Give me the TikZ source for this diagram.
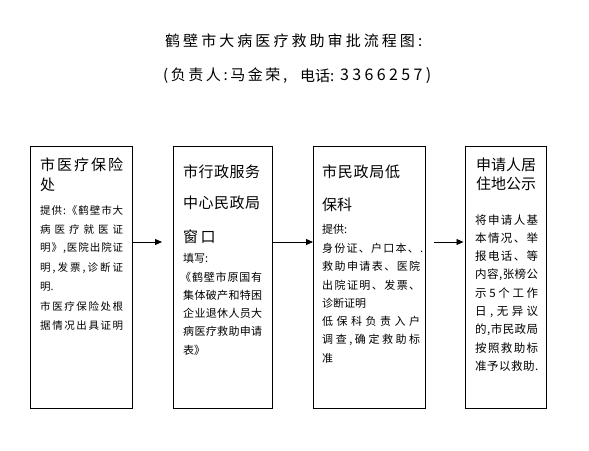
\documentclass[tikz,border=0pt]{standalone}
\usepackage{fontspec}
\newfontfamily\cjk{Noto Sans CJK SC}
\usetikzlibrary{arrows.meta}
\makeatletter
\def\spreadaux#1#2{#1\ifx\relax#2\expandafter\@gobble\else\hfil\expandafter\@firstofone\fi{\spreadaux#2}}
\makeatother
\newcommand\spr[2]{\makebox[#1][s]{\spreadaux#2\relax}}
\tikzset{
  box/.style={draw, line width=0.8pt, inner sep=0pt, anchor=north west},
  tl/.style={anchor=west, inner sep=0pt, font=\cjk\fontsize{15}{15}\selectfont},
  bodyA/.style={anchor=west, inner sep=0pt, font=\cjk\fontsize{10.5}{10.5}\selectfont},
  bodyB/.style={anchor=west, inner sep=0pt, font=\cjk\fontsize{11}{11}\selectfont},
  bodyC/.style={anchor=west, inner sep=0pt, font=\cjk\fontsize{11.5}{11.5}\selectfont},
  arr/.style={line width=0.8pt, -{Triangle[length=7pt,width=6pt]}}
}
\begin{document}
\begin{tikzpicture}[x=1pt,y=-1pt]
\useasboundingbox (0,0) rectangle (589,450);
% title
\node[tl] (h1) at (165,41) {\spr{257pt}{鹤壁市大病医疗救助审批流程图:}};
\node[tl] (h2a) at (163,76) {\spr{124pt}{(负责人:马金荣,}};
\node[tl] (h2b) at (300,76) {\spr{31pt}{电话:}};
\node[tl, font=\cjk\fontsize{16}{16}\selectfont] (h2c) at (340,76) {\spr{91pt}{3366257)}};
% boxes
\node[box, minimum width=102pt, minimum height=262pt] (b1) at (30,146) {};
\node[box, minimum width=99pt, minimum height=262pt] (b2) at (173,146) {};
\node[box, minimum width=112pt, minimum height=262pt] (b3) at (313,146) {};
\node[box, minimum width=81pt, minimum height=262pt] (b4) at (465,146) {};
% box 1
\node[tl] (a1) at (40,165) {\spr{83pt}{市医疗保险}};
\node[tl] (a2) at (40,185) {处};
\node[bodyA] (a3) at (40,210.5) {\spr{83pt}{提供:《鹤壁市大}};
\node[bodyA] (a4) at (40,229.5) {\spr{83pt}{病医疗就医证}};
\node[bodyA] (a5) at (40,248.5) {\spr{83pt}{明》,医院出院证}};
\node[bodyA] (a6) at (40,268) {\spr{83pt}{明,发票,诊断证}};
\node[bodyA] (a7) at (40,287) {明.};
\node[bodyA] (a8) at (40,306.5) {\spr{83pt}{市医疗保险处根}};
\node[bodyA] (a9) at (40,325.5) {\spr{83pt}{据情况出具证明}};
% box 2
\node[tl] (c1) at (183,172) {\spr{77pt}{市行政服务}};
\node[tl] (c2) at (183,203) {\spr{77pt}{中心民政局}};
\node[tl] (c3) at (183,237) {窗\,口};
\node[bodyB] (c4) at (183,258) {填写:};
\node[bodyB] (c5) at (180,277) {\spr{82pt}{《鹤壁市原国有}};
\node[bodyB] (c6) at (183,295) {\spr{79pt}{集体破产和特困}};
\node[bodyB] (c7) at (183,313) {\spr{79pt}{企业退休人员大}};
\node[bodyB] (c8) at (183,331.5) {\spr{79pt}{病医疗救助申请}};
\node[bodyB] (c9) at (183,350) {表》};
% box 3
\node[tl] (d1) at (322,172) {\spr{78pt}{市民政局低}};
\node[tl] (d2) at (322,205) {保科};
\node[bodyB] (d3) at (322,229.5) {提供:};
\node[bodyB] (d4) at (322,248) {\spr{101pt}{身份证、户口本、.}};
\node[bodyB] (d5) at (322,266.5) {\spr{98pt}{救助申请表、医院}};
\node[bodyB] (d6) at (322,285) {\spr{98pt}{出院证明、发票、}};
\node[bodyB] (d7) at (322,303.5) {诊断证明};
\node[bodyB] (d8) at (322,321.5) {\spr{98pt}{低保科负责入户}};
\node[bodyB] (d9) at (322,340) {\spr{98pt}{调查,确定救助标}};
\node[bodyB] (d10) at (322,358.5) {准};
% box 4
\node[tl, anchor=center] (e1) at (506,165) {申请人居};
\node[tl, anchor=center] (e2) at (506,183.5) {住地公示};
\node[bodyC] (e3) at (475,220) {\spr{63pt}{将申请人基}};
\node[bodyC] (e4) at (475,238.5) {\spr{63pt}{本情况、举}};
\node[bodyC] (e5) at (475,256.5) {\spr{63pt}{报电话、等}};
\node[bodyC] (e6) at (475,275) {\spr{63pt}{内容,张榜公}};
\node[bodyC] (e7) at (475,293.5) {\spr{63pt}{示 5 个工作}};
\node[bodyC] (e8) at (475,311.5) {\spr{63pt}{日,无异议}};
\node[bodyC] (e9) at (475,330) {\spr{63pt}{的,市民政局}};
\node[bodyC] (e10) at (475,348.5) {\spr{63pt}{按照救助标}};
\node[bodyC] (e11) at (475,366.5) {\spr{63pt}{准予以救助.}};
% arrows
\coordinate (ay) at (0,242);
\draw[arr, shorten >=11pt] (b1.east |- ay) -- (b2.west |- ay);
\draw[arr] (b2.east |- ay) -- (b3.west |- ay);
\draw[arr, shorten <=8pt, shorten >=1.5pt] (b3.east |- ay) -- (b4.west |- ay);
\end{tikzpicture}
\end{document}
